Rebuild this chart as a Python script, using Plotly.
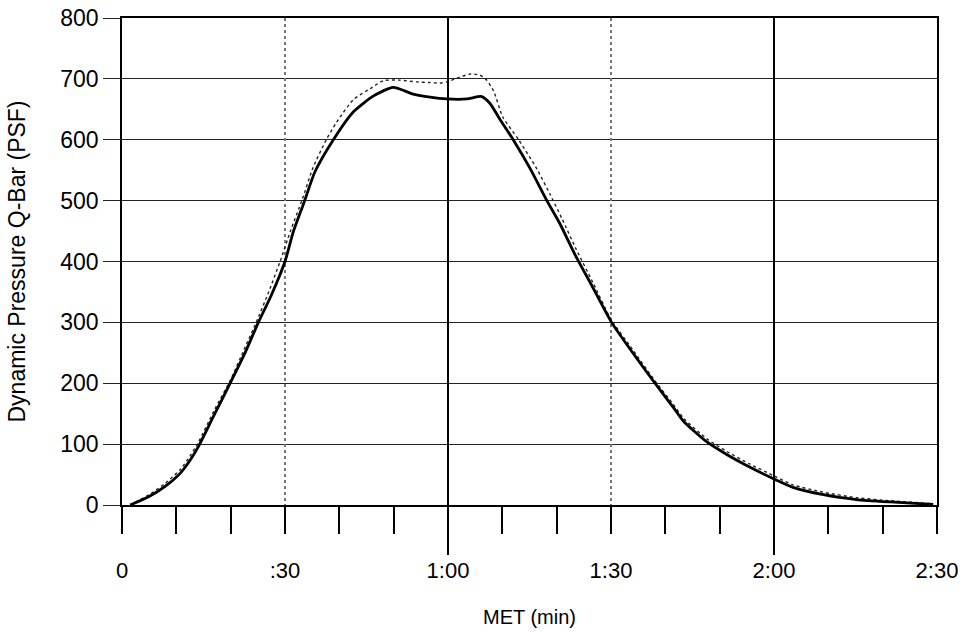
import plotly.graph_objects as go

# MET in seconds
t_solid = [1.5, 5, 8, 10.7, 12.5, 14, 16.8, 19.9, 22.6, 25.1, 27.5, 30, 31.5, 33.5, 35.5, 38.9,
           42.6, 46.3, 49.9, 53.6, 56.7, 59.8, 63.5, 66.2, 67.7, 69.6, 72, 75.1, 78.2, 80.6,
           83.4, 86.5, 90.1, 94, 98.1, 101.5, 103.3, 107.6, 111.3, 115.6, 120.2, 123.5,
           129.1, 135.2, 141.4, 149.3]
q_solid = [0, 14, 31, 52, 73, 95, 145, 200, 249, 300, 345, 400, 448, 497, 547, 600,
           646, 672, 686, 675, 670, 667, 667, 671, 660, 633, 600, 553, 500, 462,
           411, 360, 300, 250, 200, 160, 138, 104, 83, 62, 42, 29,
           17, 9, 5, 1]

t_dot = [1.5, 5, 8, 10.7, 12.5, 14, 17, 20, 22.5, 24.7, 27, 29.1, 31, 33.1, 35.2, 37.6,
         39.5, 42.6, 45.7, 48.1, 51, 54.2, 56.5, 58.5, 59.8, 61.6, 64.1, 65.9, 67.1, 68.4,
         70.1, 73, 76.3, 78.8, 81, 83.6, 86.7, 90, 94, 98, 101.5, 103.3, 107.6, 111.3,
         115.6, 120.2, 123.5, 129.1, 135.2, 141.4, 149.3]
q_dot = [0, 17, 36, 58, 80, 102, 156, 206, 256, 300, 350, 400, 450, 500, 555, 600,
         629, 666, 684, 697, 698, 695, 694, 693, 695, 701, 708, 706, 698, 680,
         637, 600, 553, 510, 470, 420, 365, 305, 255, 205, 165, 143, 109, 88,
         67, 47, 33, 21, 12, 7, 2]

x_tickvals = [0, 30, 60, 90, 120, 150]
x_ticktext = ["0", ":30", "1:00", "1:30", "2:00", "2:30"]
y_tickvals = [0, 100, 200, 300, 400, 500, 600, 700, 800]

FONT = "Liberation Sans, Arial, sans-serif"

fig = go.Figure()
fig.add_trace(go.Scatter(x=t_dot, y=q_dot, mode="lines",
                         line=dict(color="#222222", width=1.4, dash="dot",
                                   shape="spline", smoothing=0.6),
                         showlegend=False, hoverinfo="skip"))
fig.add_trace(go.Scatter(x=t_solid, y=q_solid, mode="lines",
                         line=dict(color="black", width=2.8, shape="spline", smoothing=0.6),
                         showlegend=False))
# helper traces to register the overlay axes
fig.add_trace(go.Scatter(x=[None], y=[None], xaxis="x2", showlegend=False, hoverinfo="skip"))
fig.add_trace(go.Scatter(x=[None], y=[None], xaxis="x3", showlegend=False, hoverinfo="skip"))

fig.update_layout(
    width=964, height=632,
    margin=dict(l=122, r=27, t=18, b=127),
    paper_bgcolor="white", plot_bgcolor="white",
    font=dict(family=FONT, size=22, color="black"),
    xaxis=dict(
        range=[0, 150], tickvals=x_tickvals, ticktext=x_ticktext,
        showgrid=False, zeroline=False, automargin=False,
        showline=True, mirror=True, linecolor="black", linewidth=1.5,
        ticks="outside", ticklen=27, tickwidth=1.5, tickcolor="black",
        minor=dict(dtick=10, tick0=0, ticks="outside", ticklen=27, tickwidth=1.5,
                   tickcolor="black", showgrid=False),
        ticklabelstandoff=18, ticklabeloverflow="allow",
        tickfont=dict(size=22),
        title=dict(text="MET (min)", font=dict(size=20), standoff=28),
    ),
    xaxis2=dict(
        overlaying="x", matches="x", anchor="y", side="bottom", automargin=False,
        range=[0, 150], tickvals=[60, 120], showticklabels=False,
        showgrid=True, gridcolor="black", gridwidth=1.5, zeroline=False,
        ticks="outside", ticklen=49, tickwidth=1.5, tickcolor="black",
        showline=False,
    ),
    xaxis3=dict(
        overlaying="x", matches="x", anchor="y", side="bottom", automargin=False,
        range=[0, 150], tickvals=[30, 90], showticklabels=False,
        showgrid=True, gridcolor="#777777", gridwidth=1.5, griddash="dot",
        zeroline=False, ticks="", showline=False,
    ),
    yaxis=dict(
        range=[0, 800], tickvals=y_tickvals, automargin=False,
        showgrid=True, gridcolor="#222222", gridwidth=1.3, zeroline=False,
        showline=True, mirror=True, linecolor="black", linewidth=1.5,
        ticks="outside", ticklen=17, tickwidth=1.3, tickcolor="#222222",
        ticklabeloverflow="allow",
        tickfont=dict(size=23),
        title=dict(text="Dynamic Pressure Q-Bar (PSF)", font=dict(size=23), standoff=28),
    ),
)

fig.write_html("out.html",
               config={"displayModeBar": False},
               post_script="document.body.style.margin='0';document.body.style.overflow='hidden';")
